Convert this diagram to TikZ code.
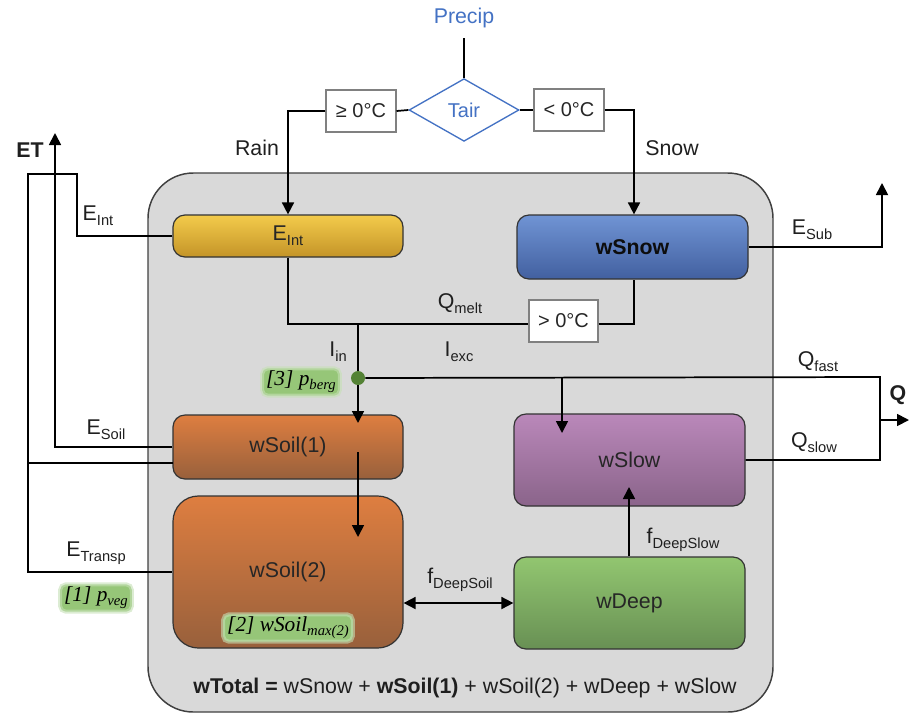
\documentclass[tikz,border=0pt]{standalone}
\usepackage{fontspec}
\setmainfont{Liberation Sans}
\newfontfamily\hand{Liberation Serif}
\usetikzlibrary{shapes.geometric,arrows.meta,calc}
\definecolor{tblue}{RGB}{68,114,196}
\definecolor{bgrey}{RGB}{217,217,217}
\definecolor{glow}{RGB}{150,198,120}
\definecolor{dotg}{RGB}{84,130,53}
\newcommand\sbs[1]{\raisebox{-0.45ex}{\fontsize{11}{11}\selectfont #1}}
\newcommand\gsb[1]{\raisebox{-0.4ex}{\fontsize{11}{11}\selectfont #1}}
\begin{document}
\begin{tikzpicture}[x=0.75pt,y=-0.75pt,
  lbl/.style={font=\fontsize{16}{18}\selectfont, text=black!88, inner sep=0pt},
  flow/.style={line width=1.3pt, black},
  arr/.style={flow, -{Triangle[length=9pt,width=9pt]}},
  darr/.style={flow, {Triangle[length=9pt,width=9pt]}-{Triangle[length=9pt,width=9pt]}},
  store/.style={draw=black!80, line width=0.9pt, rounded corners=9pt, minimum width=172.5pt,
     font=\fontsize{16}{18}\selectfont, text=black!85, inner sep=0pt},
  temp/.style={draw=black!50, line width=0.8pt, fill=white, minimum width=52.5pt, minimum height=31.5pt,
     font=\fontsize{15}{18}\selectfont, text=black!85, inner sep=0pt},
  param/.style={fill=glow, rounded corners=4pt, inner xsep=3pt, inner ysep=2pt,
     draw=glow!55, draw opacity=0.6, line width=3pt,
     font=\hand\itshape\fontsize{16}{18}\selectfont}
]
\useasboundingbox (0,0) rectangle (909,715);
% catchment
\draw[fill=bgrey, draw=black!75, line width=1.1pt, rounded corners=34pt] (148,173) rectangle (773,712);

% top part
\node[lbl, text=tblue] (precip) at (464,18) {Precip};
\node[diamond, draw=tblue, line width=1pt, fill=white, minimum width=82.5pt, minimum height=47pt, aspect=1.75,
      inner sep=0pt, text=tblue, font=\fontsize{15}{18}\selectfont] (tair) at (464,110) {Tair};
\node[temp] (ge) at (361,111) {≥ 0°C};
\node[temp] (lt) at (569,110) {< 0°C};
\coordinate (ptop) at (464,38);
\draw[flow] (ptop) -- (tair.north);
\draw[flow] (tair.west) -- (ge.east);
\draw[flow] (tair.east) -- (lt.east -| lt.west);
\node[lbl] (rain) at (257,148) {Rain};
\node[lbl] (snow) at (672,148) {Snow};

% stores
\node[store, minimum height=31.5pt, top color={rgb,255:red,243;green,203;blue,75}, bottom color={rgb,255:red,196;green,148;blue,40}] (eint) at (288,236) {E\sbs{Int}};
\node[store, minimum height=48pt, minimum width=173.25pt, top color={rgb,255:red,112;green,148;blue,212}, bottom color={rgb,255:red,66;green,96;blue,160}, font=\bfseries\fontsize{16}{18}\selectfont, text=black!95] (wsnow) at (632.5,247) {wSnow};
\node[store, minimum height=48pt, top color={rgb,255:red,222;green,126;blue,64}, bottom color={rgb,255:red,152;green,96;blue,60}] (ws1) at (288,447) {wSoil(1)};
\node[store, minimum height=114pt, rounded corners=19pt, top color={rgb,255:red,222;green,126;blue,64}, bottom color={rgb,255:red,152;green,96;blue,60}] (ws2) at (288,572) {wSoil(2)};
\node[store, minimum height=69pt, minimum width=173.25pt, top color={rgb,255:red,186;green,136;blue,186}, bottom color={rgb,255:red,138;green,100;blue,138}] (wslow) at (629.5,460) {wSlow};
\node[store, minimum height=69pt, minimum width=173.25pt, top color={rgb,255:red,146;green,198;blue,112}, bottom color={rgb,255:red,104;green,144;blue,84}] (wdeep) at (629.5,603) {wDeep};
\node[temp, minimum width=51.75pt] (gt) at (563.5,321) {> 0°C};

% precipitation routing
\draw[arr] (ge.west) -| (eint.north);
\draw[arr] (lt.east) -| (wsnow.north -| 634,0);

% melt / infiltration
\coordinate (J) at (358,324);
\node[circle, fill=dotg, minimum size=10.5pt, inner sep=0pt] (D) at (358,378) {};
\draw[flow] (eint.south) |- (gt.west |- J);
\draw[flow] (gt.east |- J) -| (wsnow.south -| 634,0);
\draw[flow] (J) -- (D);
\coordinate (w1in) at (358,423);
\draw[arr] (D) -- (w1in);
\node[lbl] (qmelt) at (460,304) {Q\sbs{melt}};
\node[lbl] (iin) at (338,352) {I\sbs{in}};
\node[lbl] (iexc) at (459,352) {I\sbs{exc}};
\node[param] (pberg) at (301,382) {[3] p\gsb{berg}};

% fast / slow flow
\coordinate (qf) at (880,377);
\coordinate (br) at (562,377);
\coordinate (slin) at (562,433);
\draw[flow] (D) -- (qf) |- (wslow.east);
\draw[arr] (br) -- (slin);
\coordinate (qm) at (880,420);
\coordinate (qe) at (909,420);
\draw[arr] (qm) -- (qe);
\node[lbl, font=\bfseries\fontsize{16}{18}\selectfont] (Q) at (898,395) {Q};
\node[lbl] (qfast) at (818,362) {Q\sbs{fast}};
\node[lbl] (qslow) at (814,443) {Q\sbs{slow}};

% soil percolation
\coordinate (s1a) at (358,452);
\coordinate (s2in) at (358,537);
\draw[arr] (s1a) -- (s2in);
\draw[darr] (wdeep.west -| ws2.east) -- (wdeep.west);
\node[lbl] (fds) at (460,580) {f\sbs{DeepSoil}};
\coordinate (slowin) at (629,487);
\draw[arr] (wdeep.north -| slowin) -- (slowin);
\node[lbl] (fdsl) at (683,540) {f\sbs{DeepSlow}};
\node[param] (psoil) at (288,628) {[2] wSoil\gsb{max(2)}};

% evaporation
\coordinate (a1) at (77,174);
\coordinate (a0) at (28,174);
\coordinate (ettop) at (55,133);
\coordinate (w1b) at (173,463);
\draw[flow] (eint.west) -| (a1) -- (a0) |- (ws2.west);
\draw[flow] (w1b) -- (w1b -| a0);
\draw[arr] (ws1.west) -| (ettop);
\node[lbl, font=\bfseries\fontsize{16}{18}\selectfont] (ET) at (30,150) {ET};
\node[lbl] (eintl) at (98,216) {E\sbs{Int}};
\node[lbl] (esoil) at (106,430) {E\sbs{Soil}};
\node[lbl] (etr) at (96,553) {E\sbs{Transp}};
\node[param] (pveg) at (96,598) {[1] p\gsb{veg}};

% sublimation
\coordinate (sub) at (882,183);
\draw[arr] (wsnow.east) -| (sub);
\node[lbl] (esub) at (812,230) {E\sbs{Sub}};

% total
\node[lbl] (tot) at (465,688) {\textbf{wTotal =} wSnow + \textbf{wSoil(1)} + wSoil(2) + wDeep + wSlow};
\end{tikzpicture}
\end{document}
